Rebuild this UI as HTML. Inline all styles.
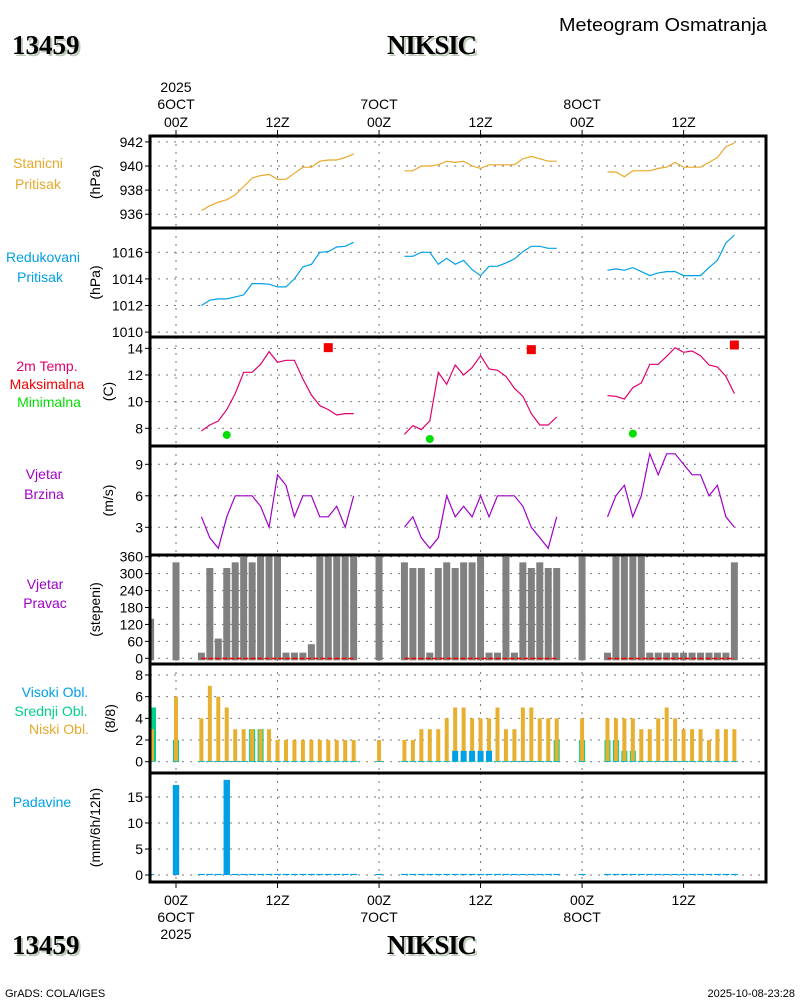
<!DOCTYPE html>
<html><head><meta charset="utf-8"><title>Meteogram NIKSIC</title>
<style>
html,body{margin:0;padding:0;background:#fff;}
svg{display:block;font-family:"Liberation Sans",sans-serif;}
</style></head>
<body>
<svg id="chart" width="800" height="1000" viewBox="0 0 800 1000" xmlns="http://www.w3.org/2000/svg">
<rect x="0" y="0" width="800" height="1000" fill="#fff"/>
<g id="titles">
 <text x="14" y="56" font-family="Liberation Serif,serif" font-weight="bold" font-size="27" fill="#bccbb8">13459</text>
 <text x="12" y="54" font-family="Liberation Serif,serif" font-weight="bold" font-size="27" fill="#000">13459</text>
 <text x="434" y="56" text-anchor="middle" font-family="Liberation Serif,serif" font-weight="bold" font-size="27" fill="#bccbb8" textLength="90">NIKSIC</text>
 <text x="432" y="54" text-anchor="middle" font-family="Liberation Serif,serif" font-weight="bold" font-size="27" fill="#000" textLength="90">NIKSIC</text>
 <text x="559" y="31" font-size="18" fill="#000" textLength="208" lengthAdjust="spacingAndGlyphs">Meteogram Osmatranja</text>
 <text x="14" y="956" font-family="Liberation Serif,serif" font-weight="bold" font-size="27" fill="#bccbb8">13459</text>
 <text x="12" y="954" font-family="Liberation Serif,serif" font-weight="bold" font-size="27" fill="#000">13459</text>
 <text x="434" y="956" text-anchor="middle" font-family="Liberation Serif,serif" font-weight="bold" font-size="27" fill="#bccbb8" textLength="90">NIKSIC</text>
 <text x="432" y="954" text-anchor="middle" font-family="Liberation Serif,serif" font-weight="bold" font-size="27" fill="#000" textLength="90">NIKSIC</text>
 <text x="5" y="997" font-size="11" fill="#000">GrADS: COLA/IGES</text>
 <text x="795" y="997" text-anchor="end" font-size="11" fill="#000">2025-10-08-23:28</text>
</g>
<g id="labels" font-size="14" text-anchor="middle">
 <text x="38" y="168" fill="#e8a82a">Stanicni</text>
 <text x="38" y="189" fill="#e8a82a">Pritisak</text>
 <text x="43" y="262" fill="#00a0e6">Redukovani</text>
 <text x="40" y="282" fill="#00a0e6">Pritisak</text>
 <text x="47" y="371" fill="#e0006e">2m Temp.</text>
 <text x="47" y="389" fill="#f00000">Maksimalna</text>
 <text x="49" y="407" fill="#00dd00">Minimalna</text>
 <text x="44" y="479" fill="#a000c8">Vjetar</text>
 <text x="44" y="499" fill="#a000c8">Brzina</text>
 <text x="45" y="589" fill="#a000c8">Vjetar</text>
 <text x="45" y="608" fill="#a000c8">Pravac</text>
 <text x="55" y="697" fill="#00a0e6">Visoki Obl.</text>
 <text x="51" y="716" fill="#00d08c">Srednji Obl.</text>
 <text x="59" y="734" fill="#e8a82a">Niski Obl.</text>
 <text x="42" y="807" fill="#00a0e6">Padavine</text>
</g>
<g id="axes"></g>
<g id="marks"></g>
<g id="frame"></g>
</svg>
<script>
// ---------- data ----------
const lineHours = [3,4,5,6,7,8,9,10,11,12,13,14,15,16,17,18,19,20,21,
 27,28,29,30,31,32,33,34,35,36,37,38,39,40,41,42,43,44,45,
 51,52,53,54,55,56,57,58,59,60,61,62,63,64,65,66];
const stnPressure = [936.3,936.7,937.0,937.2,937.6,938.3,939.0,939.2,939.3,938.9,938.9,939.4,939.9,939.9,940.4,940.5,940.5,940.7,941.0,
 939.6,939.6,940.0,940.0,940.1,940.4,940.3,940.4,940.0,939.8,940.1,940.1,940.1,940.1,940.6,940.8,940.6,940.4,940.4,
 939.5,939.5,939.1,939.6,939.6,939.6,939.8,939.9,940.3,939.9,939.9,939.9,940.3,940.7,941.6,941.9];
const redPressure = [1012.0,1012.4,1012.5,1012.5,1012.65,1012.8,1013.65,1013.65,1013.6,1013.4,1013.4,1014.0,1014.9,1015.1,1016.0,1016.05,1016.4,1016.45,1016.75,
 1015.7,1015.7,1016.0,1016.0,1015.1,1015.55,1015.1,1015.4,1014.7,1014.25,1014.95,1014.95,1015.2,1015.5,1016.05,1016.45,1016.45,1016.3,1016.3,
 1014.65,1014.75,1014.65,1014.85,1014.55,1014.25,1014.45,1014.55,1014.55,1014.25,1014.25,1014.25,1014.85,1015.4,1016.7,1017.3];
const temperature = [7.8,8.25,8.55,9.4,10.6,12.2,12.2,12.8,13.75,12.95,13.1,13.1,11.7,10.5,9.7,9.4,9.0,9.1,9.1,
 7.55,8.2,7.9,8.55,12.2,11.3,12.75,12.0,12.55,13.45,12.45,12.35,11.9,11.0,10.4,9.1,8.25,8.25,8.85,
 10.45,10.4,10.2,11.05,11.4,12.8,12.8,13.4,14.05,13.7,13.8,13.45,12.75,12.6,11.9,10.6];
const windSpeed = [4,2,1,4,6,6,6,5,3,8,7,4,6,6,4,4,5,3,6,
 3,4,2,1,2,6,4,5,4,6,4,6,6,6,5,3,2,1,4,
 4,6,7,4,6,10,8,10,10,9,8,8,6,7,4,3];
const maxHours = [18,42,66];
const maxTemp = [14.05,13.9,14.25];
const minHours = [6,30,54];
const minTemp = [7.5,7.2,7.6];
const barHours = [-3,0,3,4,5,6,7,8,9,10,11,12,13,14,15,16,17,18,19,20,21,
 24,27,28,29,30,31,32,33,34,35,36,37,38,39,40,41,42,43,44,45,
 48,51,52,53,54,55,56,57,58,59,60,61,62,63,64,65,66];
const windDir = [140,340,20,320,70,320,340,360,340,360,360,360,20,20,20,50,360,360,360,360,360,
 360,340,320,320,20,320,340,320,340,340,360,20,20,360,20,340,320,340,320,320,
 360,20,360,360,360,360,20,20,20,20,20,20,20,20,20,20,340];
const lowCloud = [3,6,4,7,6,5,3,3,3,3,3,2,2,2,2,2,2,2,2,2,2,
 2,2,2,3,3,3,4,5,5,4,4,4,5,3,3,5,5,4,4,4,
 4,4,4,4,4,3,3,4,5,4,3,3,3,2,3,3,3];
const midCloud = [5,2,0,0,0,0,0,0,3,3,0,0,0,0,0,0,0,0,0,0,0,
 0,0,0,0,0,0,0,0,0,0,0,0,0,0,0,0,0,0,0,2,
 2,2,2,1,1,0,0,0,0,0,0,0,0,0,0,0,0];
const highCloud = [0,0,0,0,0,0,0,0,0,0,0,0,0,0,0,0,0,0,0,0,0,
 0,0,0,0,0,0,0,1,1,1,1,1,0,0,0,0,0,0,0,0,
 0,0,0,0,0,0,0,0,0,0,0,0,0,0,0,0,0];
const precip = [0,17.3,0,0,0,18.3,0,0,0,0,0,0,0,0,0,0,0,0,0,0,0,
 0,0,0,0,0,0,0,0,0,0,0,0,0,0,0,0,0,0,0,0,
 0,0,0,0,0,0,0,0,0,0,0,0,0,0,0,0,0];
const calmRanges = [[3,21],[27,45],[51,66]];
const topTicks = [0,12,24,36,48,60];
const topTickLabels = ["00Z","12Z","00Z","12Z","00Z","12Z"];
const dayLabels = [[0,"6OCT"],[24,"7OCT"],[48,"8OCT"]];

// ---------- scales ----------
const L=150,R=766;
const xTop = h => 176 + h*8.46;
const xBot = xTop;
const panels = [
 {name:'stn-pressure', y0:136, y1:228, f:v=>166-(v-940)*12.05, ticks:[936,938,940,942], title:'(hPa)', tx:95},
 {name:'red-pressure', y0:228, y1:337, f:v=>252.3-(v-1016)*13.3, ticks:[1010,1012,1014,1016], title:'(hPa)', tx:95},
 {name:'temperature', y0:337, y1:446, f:v=>428.3-(v-8)*13.33, ticks:[8,10,12,14], title:'(C)', tx:108},
 {name:'wind-speed', y0:446, y1:555, f:v=>527.3-(v-3)*10.5, ticks:[3,6,9], title:'(m/s)', tx:108},
 {name:'wind-direction', y0:555, y1:664, f:v=>658.3-v*0.2822, ticks:[0,60,120,180,240,300,360], title:'(stepeni)', tx:95},
 {name:'clouds', y0:664, y1:773, f:v=>761.7-v*10.84, ticks:[0,2,4,6,8], title:'(8/8)', tx:110},
 {name:'precipitation', y0:773, y1:882, f:v=>875-v*5.2, ticks:[0,5,10,15], title:'(mm/6h/12h)', tx:95}
];
const NS='http://www.w3.org/2000/svg';
function mk(tag, attrs, parent){const e=document.createElementNS(NS,tag);for(const k in attrs)e.setAttribute(k,attrs[k]);parent.appendChild(e);return e;}
const axes=document.getElementById('axes'), marks=document.getElementById('marks'), frame=document.getElementById('frame');

// grids & ticks
panels.forEach(p=>{
 topTicks.forEach(h=>{
  const x=xTop(h);
  const g=mk('line',{x1:x,x2:x,y1:p.y0,y2:p.y1,stroke:'#777','stroke-width':1,'stroke-dasharray':'2 6'},axes);
  
  
 });
 p.ticks.forEach(v=>{
  const y=p.f(v);
  const g=mk('line',{x1:L,x2:R,y1:y,y2:y,stroke:'#777','stroke-width':1,'stroke-dasharray':'2 6'},axes);
  
  
  const t=mk('line',{x1:L-5,x2:L,y1:y,y2:y,stroke:'#000','stroke-width':1},axes);
  
  
  const lb=mk('text',{x:L-7,y:y+5,'text-anchor':'end','font-size':14,fill:'#000'},axes);
  lb.textContent=v;
  
  
 });
 const cy=(p.y0+p.y1)/2;
 const tt=mk('text',{x:p.tx,y:cy,'text-anchor':'middle','font-size':14,fill:'#000',transform:`rotate(-90 ${p.tx} ${cy})`,dy:5},axes);
 tt.textContent=p.title;
 
 
});
// axis labels
topTicks.forEach((h,i)=>{
 const x=xTop(h);
 const t=mk('line',{x1:x,x2:x,y1:130,y2:136,stroke:'#000','stroke-width':1},axes);
 
 
 const lb=mk('text',{x:x,y:127,'text-anchor':'middle','font-size':14,fill:'#000'},axes);
 lb.textContent=topTickLabels[i];
 
 
 const xb=xBot(h);
 const tb=mk('line',{x1:xb,x2:xb,y1:882,y2:888,stroke:'#000','stroke-width':1},axes);
 
 
 const lb2=mk('text',{x:xb,y:905,'text-anchor':'middle','font-size':14,fill:'#000'},axes);
 lb2.textContent=topTickLabels[i];
 
 
});
dayLabels.forEach(([h,s])=>{
 const a=mk('text',{x:xTop(h),y:109,'text-anchor':'middle','font-size':14,fill:'#000'},axes);
 a.textContent=s;
 
 
 const b=mk('text',{x:xBot(h),y:922,'text-anchor':'middle','font-size':14,fill:'#000'},axes);
 b.textContent=s;
 
 
});
const y1=mk('text',{x:xTop(0),y:92,'text-anchor':'middle','font-size':14,fill:'#000'},axes);
y1.textContent='2025';


const y2=mk('text',{x:xBot(0),y:939,'text-anchor':'middle','font-size':14,fill:'#000'},axes);
y2.textContent='2025';



// line series (break on gaps)
function drawLine(hours, vals, xf, yf, color, name){
 let d='';
 for(let i=0;i<hours.length;i++){
  const cmd=(i===0||hours[i]-hours[i-1]>1)?'M':'L';
  d+=cmd+xf(hours[i]).toFixed(1)+' '+yf(vals[i]).toFixed(1)+' ';
 }
 const p=mk('path',{d:d,fill:'none',stroke:color,'stroke-width':1.2},marks);
 
 
}
drawLine(lineHours, stnPressure, xTop, panels[0].f, '#e8a82a', 'station-pressure-line');
drawLine(lineHours, redPressure, xTop, panels[1].f, '#00a0e6', 'reduced-pressure-line');
drawLine(lineHours, temperature, xBot, panels[2].f, '#e0006e', 'temperature-line');
drawLine(lineHours, windSpeed, xBot, v=>Math.max(panels[3].f(v),447), '#a000c8', 'wind-speed-line');

maxHours.forEach((h,i)=>{
 const r=mk('rect',{x:xBot(h)-4.5,y:panels[2].f(maxTemp[i])-4.5,width:9,height:9,fill:'#f00000'},marks);
 
 
});
minHours.forEach((h,i)=>{
 const c=mk('circle',{cx:xBot(h),cy:panels[2].f(minTemp[i]),r:4,fill:'#00dd00'},marks);
 
 
});

// wind direction bars
const pd=panels[4];
barHours.forEach((h,i)=>{
 const x=Math.max(xBot(h)-3.5,L);
 const xr=xBot(h)+3.5;
 const y=pd.f(windDir[i]);
 const b=mk('rect',{x:x,y:y,width:xr-x,height:pd.f(0)-y+2,fill:'#808080'},marks);
 
 
});
calmRanges.forEach(([a,b])=>{
 const l=mk('line',{x1:xBot(a),x2:xBot(b),y1:658.5,y2:658.5,stroke:'#f00000','stroke-width':1.5,'stroke-dasharray':'5 2'},marks);
 
 
});

// clouds
const pc=panels[5];
barHours.forEach((h,i)=>{
 const xc=xBot(h);
 if(midCloud[i]>0){
  const y=pc.f(midCloud[i]);
  const m=mk('rect',{x:Math.max(xc-3,L),y:y,width:6,height:pc.f(0)-y,fill:'#00d08c'},marks);
  
  
 }
 const y=pc.f(lowCloud[i]);
 const lo=mk('rect',{x:Math.max(xc-2,L),y:y,width:4,height:pc.f(0)-y,fill:'#e8b030'},marks);
 
 
 if(highCloud[i]>0){
  const yh=pc.f(highCloud[i]);
  const hi=mk('rect',{x:xc-3,y:yh,width:6,height:pc.f(0)-yh,fill:'#00a0e6'},marks);
  
  
 }
 const z=mk('line',{x1:Math.max(xc-3.5,L),x2:xc+3.5,y1:761.5,y2:761.5,stroke:'#20b8c0','stroke-width':1},marks);
 
 
});

// precipitation
const pp=panels[6];
barHours.forEach((h,i)=>{
 const xc=xBot(h);
 if(precip[i]>0){
  const y=pp.f(precip[i]);
  const b=mk('rect',{x:xc-3.2,y:y,width:6.4,height:pp.f(0)-y,fill:'#00a0e6'},marks);
  
  
 } else {
  const z=mk('line',{x1:Math.max(xc-3.5,L),x2:xc+3.5,y1:874.5,y2:874.5,stroke:'#00a0e6','stroke-width':1.2},marks);
  
  
 }
});

// frame
const fr=mk('rect',{x:L,y:136,width:R-L,height:882-136,fill:'none',stroke:'#000','stroke-width':3},frame);


[228,337,446,555,664,773].forEach(y=>{
 const s=mk('line',{x1:L,x2:R,y1:y,y2:y,stroke:'#000','stroke-width':3},frame);
 
 
});
</script>
</body></html>
